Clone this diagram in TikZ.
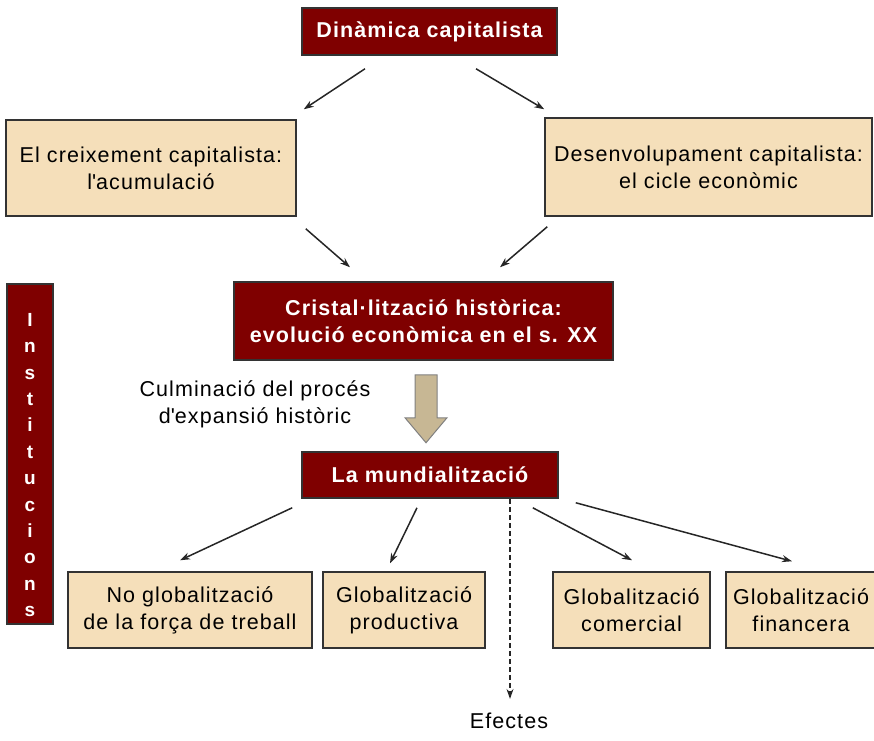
\documentclass[tikz,border=0pt]{standalone}
\usepackage{fontspec}
\setmainfont{Liberation Sans}[LetterSpace=5]
\usepackage{tikz}
\usetikzlibrary{arrows.meta}

\definecolor{boxred}{HTML}{7F0000}
\definecolor{boxtan}{HTML}{F5DFBA}
\definecolor{flowtan}{HTML}{C7B794}
\definecolor{edgegray}{HTML}{333333}

\begin{document}
\begin{tikzpicture}[x = 1pt, y = -1pt, font = \fontsize{21.5}{27}\selectfont,
  redbox/.style = {draw = edgegray, line width = 1.5pt, fill = boxred, text = white, font = \fontsize{21.5}{27}\selectfont\bfseries, align = center, inner sep = 0pt},
  tanbox/.style = {draw = edgegray, line width = 1.5pt, fill = boxtan, align = center, inner sep = 0pt},
  link/.style = {draw = black!85, line width = 1.5pt, -{Stealth[length = 10pt, width = 7pt]}}]
\useasboundingbox (0,0) rectangle (874,740);
\node[redbox, minimum width = 255, minimum height = 47] (dinamica) at (429.5,31.5) {Dinàmica capitalista};
\node[tanbox, minimum width = 290, minimum height = 96] (creix) at (151,168) {El creixement capitalista:\\l\textquotesingle acumulació};
\node[tanbox, minimum width = 327, minimum height = 98] (desenv) at (708.5,167) {Desenvolupament capitalista:\\el cicle econòmic};
\node[redbox, minimum width = 379, minimum height = 78] (cristal) at (423.5,321) {Cristal·lització històrica:\\evolució econòmica en el s. XX};
\node[redbox, minimum width = 256, minimum height = 46] (mundial) at (430,475) {La mundialització};
\node[align = center, inner sep = 0pt] (culmina) at (255,404) {Culminació del procés\\d\textquotesingle expansió històric};
\node[tanbox, minimum width = 244, minimum height = 76] (noglob) at (190,610) {No globalització\\de la força de treball};
\node[tanbox, minimum width = 162, minimum height = 76] (product) at (404,610) {Globalització\\productiva};
\node[tanbox, minimum width = 157, minimum height = 76] (comerc) at (631.5,610) {Globalització\\comercial};
\node[tanbox, minimum width = 150, minimum height = 76] (financ) at (801,610) {Globalització\\financera};
\node[inner sep = 0pt] (efectes) at (509,721) {Efectes};
\node[redbox, minimum width = 46, minimum height = 340, anchor = north] (inst) at (30,283) {};
\node[text = white, align = center, inner sep = 0pt, anchor = north, font = \fontsize{19}{26.4}\selectfont\bfseries] (instlabel) at ([shift = {(0,30)}]inst.north) {I\\n\\s\\t\\i\\t\\u\\c\\i\\o\\n\\s};
\draw[link] ([shift = {(-64.5,13)}]dinamica.south) -- ([shift = {(7,-10)}]creix.north east);
\draw[link] ([shift = {(46.5,13)}]dinamica.south) -- ([shift = {(0,-8)}]desenv.north west);
\draw[link] ([shift = {(9,12)}]creix.south east) -- ([shift = {(-73.5,-14)}]cristal.north);
\draw[link] ([shift = {(3,10)}]desenv.south west) -- ([shift = {(76.5,-14)}]cristal.north);
\draw[draw = gray, line width = 1pt, fill = flowtan] ([shift = {(-8.5,14)}]cristal.south) -- ++(22,0) -- ++(0,43) -- ++(10,0) -- ++(-21,25) -- ++(-21,-25) -- ++(10,0) -- cycle;
\draw[link] ([shift = {(-9,9)}]mundial.south west) -- ([shift = {(-10,-11)}]noglob.north);
\draw[link] ([shift = {(-13,9)}]mundial.south) -- ([shift = {(-14,-8)}]product.north);
\draw[link] ([shift = {(-26,9)}]mundial.south east) -- ([shift = {(0.5,-11)}]comerc.north);
\draw[link] ([shift = {(17,4)}]mundial.south east) -- ([shift = {(-9,-10)}]financ.north);
\draw[link, line width = 1.3pt, dash pattern = on 5pt off 3pt] ([shift = {(80,0)}]mundial.south) -- ([shift = {(1,-14)}]efectes.north);
\end{tikzpicture}
\end{document}
